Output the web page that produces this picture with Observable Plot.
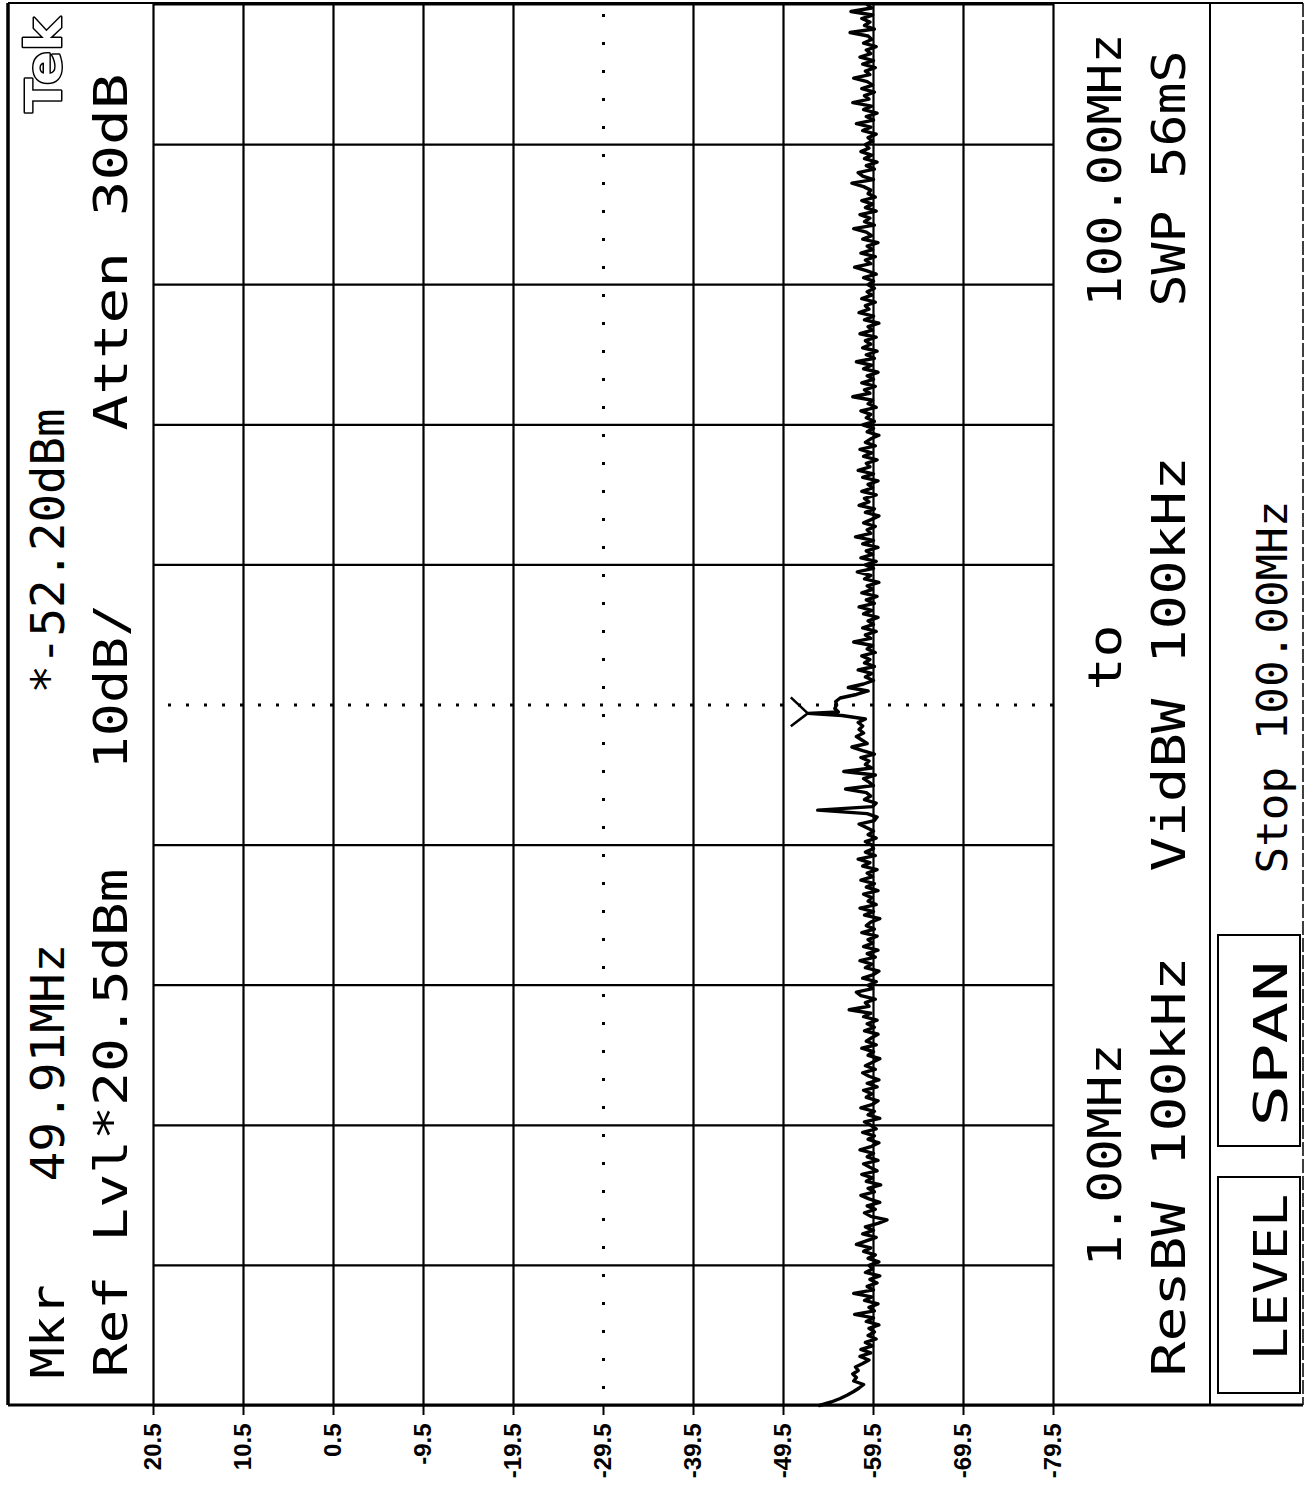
<!DOCTYPE html>
<html>
<head>
<meta charset="utf-8">
<script src="https://cdn.jsdelivr.net/npm/d3@7"></script>
<script src="https://cdn.jsdelivr.net/npm/@observablehq/plot@0.6"></script>
<style>
  html, body { margin: 0; padding: 0; background: #fff; }
  #chart svg { display: block; }
</style>
</head>
<body>
<div id="chart"></div>
<script>
// Amplitude graticule (dBm), 10 dB per division from the reference level
const refLevel = 20.5;
const levelTicks = [20.5, 10.5, 0.5, -9.5, -19.5, -29.5, -39.5, -49.5, -59.5, -69.5, -79.5];
const centerLevel = -29.5;

// Frequency graticule (MHz), start 1 MHz to stop 100 MHz in ten divisions
const sweepStart = 1.0;
const sweepStop = 100.0;
const freqLines = [1.0, 10.9, 20.8, 30.7, 40.6, 50.5, 60.4, 70.3, 80.2, 90.1, 100.0];
const centerFreq = 50.5;

// Marker readout
const marker = { freq: 49.91, level: -52.20 };

// Trace bins: 401 points across the sweep, one band per graticule division
const sweepStep = 0.2475;
const band1 = [-53.5, -54.8, -55.8, -56.6, -57.3, -57.9, -58.4, -57.3, -57.6, -57.2,
               -57.8, -57.5, -58.3, -59.0, -58.0, -59.2, -58.1, -59.4, -58.6, -59.8,
               -58.9, -59.6, -59.0, -60.1, -58.7, -59.5, -57.4, -59.6, -59.0, -60.0,
               -58.5, -59.3, -57.3, -59.5, -58.8, -59.9, -59.1, -60.2, -58.6, -59.4];
const band2 = [-59.0, -60.1, -58.9, -59.7, -58.4, -59.2, -57.6, -58.7, -59.8, -58.3,
               -59.5, -58.6, -60.0, -61.0, -59.2, -58.5, -59.7, -58.8, -60.2, -59.0,
               -58.1, -59.6, -58.9, -60.3, -58.7, -59.4, -58.2, -59.9, -59.1, -58.4,
               -60.0, -58.8, -59.5, -58.0, -59.3, -60.1, -58.9, -59.6, -58.3, -59.8];
const band3 = [-59.2, -58.5, -60.2, -58.9, -59.6, -58.1, -59.4, -60.0, -58.7, -59.3,
               -58.4, -59.9, -58.8, -60.1, -59.0, -58.3, -59.7, -58.6, -59.4, -60.2,
               -58.9, -59.5, -58.2, -59.8, -58.7, -59.3, -60.0, -58.5, -59.6, -58.8,
               -59.9, -58.4, -59.2, -56.8, -59.0, -58.6, -59.7, -58.1, -57.6, -59.4];
const band4 = [-58.9, -59.8, -58.3, -59.5, -60.1, -58.6, -59.3, -58.0, -59.7, -58.8,
               -60.0, -58.4, -59.4, -58.9, -59.9, -58.2, -59.6, -58.7, -59.2, -60.2,
               -58.5, -59.5, -58.0, -59.8, -58.9, -59.3, -58.4, -60.0, -58.7, -59.6,
               -58.1, -59.4, -58.8, -59.9, -58.3, -59.1, -57.8, -59.7, -58.6, -59.5];
const band5 = [-59.3, -58.6, -59.8, -58.9, -59.5, -58.7, -57.9, -59.6, -59.9, -58.8,
               -53.3, -59.4, -59.8, -58.5, -59.2, -58.7, -56.4, -59.5, -59.0, -58.4,
               -59.7, -56.2, -59.3, -58.6, -59.0, -58.1, -59.6, -58.3, -57.1, -58.8,
               -58.2, -57.6, -58.4, -57.9, -58.3, -57.8, -58.6, -56.0, -55.6, -55.2];
const band6 = [-55.4, -55.3, -55.8, -57.6, -58.9, -56.7, -58.4, -59.5, -58.6, -59.3,
               -57.8, -59.6, -58.5, -59.1, -58.2, -59.7, -58.8, -59.4, -57.3, -59.2,
               -58.6, -59.8, -58.3, -59.5, -58.9, -60.0, -58.4, -59.3, -57.9, -59.6,
               -58.7, -59.9, -58.2, -59.4, -58.8, -60.1, -58.5, -59.2, -57.7, -59.5];
const band7 = [-58.6, -59.8, -58.1, -59.4, -58.7, -60.0, -58.3, -59.5, -57.5, -59.2,
               -58.8, -59.7, -58.4, -59.3, -60.1, -58.6, -59.6, -57.9, -59.0, -58.5,
               -59.8, -58.2, -59.4, -58.9, -60.0, -58.3, -59.5, -57.8, -59.1, -58.7,
               -59.9, -58.4, -59.3, -58.0, -59.7, -58.6, -59.2, -60.1, -58.8, -59.5];
const band8 = [-58.3, -59.6, -58.7, -59.2, -58.1, -59.8, -58.9, -59.4, -57.2, -59.1,
               -58.5, -59.7, -58.2, -59.5, -58.8, -60.0, -58.4, -59.3, -57.6, -59.6,
               -58.7, -59.9, -58.3, -59.2, -58.6, -59.8, -58.0, -59.4, -58.9, -60.1,
               -58.5, -59.5, -57.9, -59.0, -58.6, -59.7, -58.2, -59.3, -58.8, -59.6];
const band9 = [-58.9, -59.5, -58.4, -59.8, -58.7, -57.4, -59.2, -58.6, -59.7, -58.1,
               -59.4, -58.8, -60.0, -58.3, -59.3, -58.7, -57.3, -59.6, -58.5, -59.1,
               -58.0, -59.8, -58.6, -59.4, -58.2, -59.7, -58.9, -59.2, -58.4, -57.1,
               -59.5, -58.3, -57.8, -59.6, -58.7, -59.9, -58.5, -59.3, -58.1, -59.0];
const band10 = [-58.6, -59.4, -58.9, -59.8, -58.3, -59.2, -57.6, -59.5, -58.7, -59.9,
                -58.4, -59.3, -57.2, -59.0, -58.5, -59.6, -58.2, -59.4, -58.8, -57.3,
                -59.1, -58.6, -59.7, -58.3, -59.5, -58.0, -59.2, -58.7, -59.8, -58.4,
                -59.3, -58.9, -56.9, -59.6, -58.5, -59.1, -58.2, -59.4, -57.0, -59.3,
                -58.8];

const levels = [...band1, ...band2, ...band3, ...band4, ...band5,
                ...band6, ...band7, ...band8, ...band9, ...band10];
const trace = levels.map((level, i) => ({ freq: sweepStart + i * sweepStep, level }));
trace.push({ freq: marker.freq, level: marker.level });
trace.sort((a, b) => a.freq - b.freq);

// Layout of the plotting area inside the instrument screen
const W = 1305, H = 1489;
const mLeft = 153, mRight = 252, mTop = 4, mBottom = 84;

// Monospaced screen annotations, written bottom-to-top.
// px = baseline, y0 = first character, y1 = end of the last character.
const MONO = "DejaVu Sans Mono";
const fitLengths = new Map();
function readout(str, px, y0, y1, size = 46) {
  fitLengths.set(str, y0 - y1);
  return Plot.text([str], {
    text: d => d,
    frameAnchor: "top-left",
    dx: px - mLeft,
    dy: y0 - mTop,
    rotate: -90,
    textAnchor: "start",
    lineAnchor: "bottom",
    fontFamily: MONO,
    fontSize: size,
    fill: "black"
  });
}

// Marker glyph: a "Y" whose stem tip sits on the marked point
const markerSymbol = {
  draw(ctx) {
    ctx.moveTo(-17, -16);
    ctx.lineTo(0, 0);
    ctx.lineTo(-17, 13);
  }
};

// Screen frame, side panels and soft-key boxes
const screenFrame = () => {
  const g = d3.create("svg:g").attr("fill", "none").attr("stroke", "black");
  const seg = (x1, y1, x2, y2, w) =>
    g.append("line").attr("x1", x1).attr("y1", y1).attr("x2", x2).attr("y2", y2).attr("stroke-width", w);
  seg(8, 3, 1303, 3, 2);
  seg(8, 3, 8, 1405, 3.5);
  seg(8, 1405, 1303, 1405, 3);
  seg(1303, 3, 1303, 1405, 1.5).attr("stroke-dasharray", "14,3");
  seg(1210, 3, 1210, 1405, 2);
  g.append("rect").attr("x", 1218).attr("y", 935).attr("width", 82).attr("height", 211).attr("stroke-width", 2);
  g.append("rect").attr("x", 1218).attr("y", 1177).attr("width", 82).attr("height", 216).attr("stroke-width", 2);
  return g.node();
};

const chart = Plot.plot({
  width: W,
  height: H,
  marginLeft: mLeft,
  marginRight: mRight,
  marginTop: mTop,
  marginBottom: mBottom,
  style: { background: "white", overflow: "visible" },
  x: { domain: [refLevel, -79.5], label: null },
  y: { domain: [sweepStart, sweepStop], label: null, axis: null },
  marks: [
    screenFrame,
    // graticule
    Plot.ruleX(levelTicks.filter(d => d !== centerLevel), { stroke: "black", strokeWidth: 2.2 }),
    Plot.ruleY(freqLines.filter(d => d !== centerFreq), { stroke: "black", strokeWidth: 2.2 }),
    Plot.ruleX([centerLevel], { stroke: "black", strokeWidth: 3, strokeDasharray: "3,25", strokeDashoffset: -10 }),
    Plot.ruleY([centerFreq], { stroke: "black", strokeWidth: 3, strokeDasharray: "3,15", strokeDashoffset: -15 }),
    // amplitude scale under the screen
    Plot.axisX({
      ticks: levelTicks,
      tickFormat: d => String(d),
      tickSize: 10,
      tickPadding: 8,
      tickRotate: -90,
      strokeWidth: 2,
      fontSize: 24,
      fontWeight: "bold",
      fontFamily: "Liberation Sans",
      label: null
    }),
    // spectrum trace
    Plot.line(trace, { x: "level", y: "freq", stroke: "black", strokeWidth: 3.4, strokeLinejoin: "round" }),
    // marker
    Plot.dot([marker], { x: "level", y: "freq", symbol: markerSymbol, r: 10, fill: "none", stroke: "black", strokeWidth: 2.5 }),
    // left readout panel
    readout("Mkr", 63, 1378, 1284),
    readout(`${marker.freq.toFixed(2)}MHz`, 63, 1181, 943),
    readout(`*${marker.level.toFixed(2)}dBm`, 63, 693, 408),
    readout(`Ref Lvl*${refLevel.toFixed(1)}dBm`, 126, 1377, 868),
    readout("10dB/", 126, 769, 603),
    readout("Atten 30dB", 126, 430, 73),
    Plot.text(["Tek"], {
      text: d => d, frameAnchor: "top-left", dx: 60 - mLeft, dy: 112 - mTop,
      rotate: -90, textAnchor: "start", lineAnchor: "bottom",
      fontFamily: "DejaVu Sans", fontWeight: "bold", fontSize: 50,
      fill: "white", stroke: "black", strokeWidth: 3
    }),
    // right readout panel
    readout(`${sweepStart.toFixed(2)}MHz`, 1120, 1266, 1043),
    readout("to", 1120, 690, 624),
    readout(`${sweepStop.toFixed(2)}MHz`, 1120, 306, 33),
    readout("ResBW 100kHz", 1184, 1376, 956),
    readout("VidBW 100kHz", 1184, 871, 456),
    readout("SWP 56mS", 1184, 306, 50),
    readout(`Stop ${sweepStop.toFixed(2)}MHz`, 1286, 873, 500, 42),
    readout("SPAN", 1286, 1126, 960),
    readout("LEVEL", 1286, 1360, 1193)
  ]
});

// Stretch each readout to its character-cell width on the screen
d3.select(chart).selectAll("text").each(function () {
  const len = fitLengths.get(this.textContent);
  if (len) d3.select(this).attr("textLength", len).attr("lengthAdjust", "spacingAndGlyphs");
});

document.getElementById("chart").appendChild(chart);
</script>
</body>
</html>
